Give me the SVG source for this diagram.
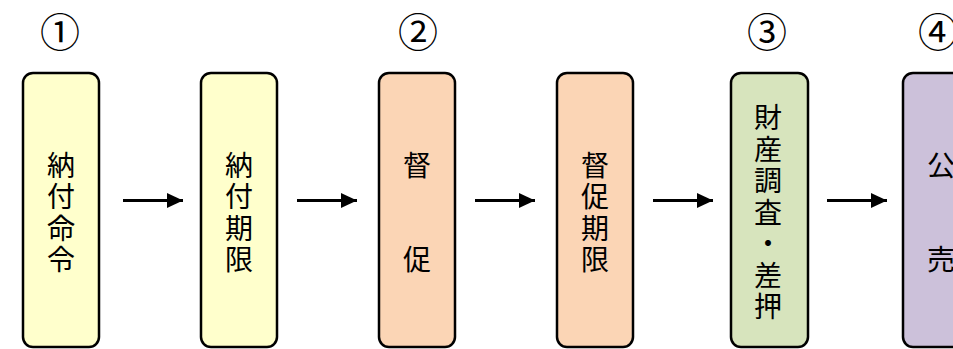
<svg xmlns="http://www.w3.org/2000/svg" width="953" height="349" viewBox="0 0 953 349">
  <style>
    .box { stroke: #000; stroke-width: 2.5; }
    .y { fill: #FFFFCC; }
    .o { fill: #FBD5B5; }
    .g { fill: #D7E4BD; }
    .p { fill: #CCC1DA; }
    .t { font-family: "Noto Sans CJK JP", "Liberation Sans", sans-serif; font-size: 28px; fill: #000; text-anchor: middle; writing-mode: vertical-rl; letter-spacing: 3.5px; }
    .n { font-family: "Noto Sans CJK JP", "Liberation Sans", sans-serif; font-size: 40px; fill: #000; text-anchor: middle; dominant-baseline: central; }
    .ln { stroke: #000; stroke-width: 3; fill: none; }
  </style>
  <defs>
    <marker id="ah" markerWidth="16" markerHeight="15" refX="16" refY="7.5" markerUnits="userSpaceOnUse" orient="auto">
      <polygon points="0,0 16,7.5 0,15" fill="#000"/>
    </marker>
  </defs>
  <rect width="953" height="349" fill="#fff"/>

  <g id="labels">
    <text class="n" x="60" y="30">①</text>
    <text class="n" x="418" y="30">②</text>
    <text class="n" x="767" y="30">③</text>
    <text class="n" x="938" y="30">④</text>
  </g>

  <g id="node1">
    <rect class="box y" x="23" y="73" width="76" height="274" rx="10"/>
    <text class="t" x="61" y="214">納付命令</text>
  </g>
  <g id="node2">
    <rect class="box y" x="201" y="73" width="76" height="274" rx="10"/>
    <text class="t" x="239" y="214">納付期限</text>
  </g>
  <g id="node3">
    <rect class="box o" x="379" y="73" width="76" height="274" rx="10"/>
    <text class="t" x="417" y="214">督　　促</text>
  </g>
  <g id="node4">
    <rect class="box o" x="557" y="73" width="76" height="274" rx="10"/>
    <text class="t" x="595" y="214">督促期限</text>
  </g>
  <g id="node5">
    <rect class="box g" x="731" y="73" width="77" height="274" rx="10"/>
    <text class="t" x="768" y="214">財産調査・差押</text>
  </g>
  <g id="node6">
    <rect class="box p" x="903" y="73" width="77" height="274" rx="10"/>
    <text class="t" x="941" y="214">公　　売</text>
  </g>

  <g id="connectors">
    <line class="ln" x1="123" y1="200.5" x2="183" y2="200.5" marker-end="url(#ah)"/>
    <line class="ln" x1="297" y1="200.5" x2="357" y2="200.5" marker-end="url(#ah)"/>
    <line class="ln" x1="475" y1="200.5" x2="535" y2="200.5" marker-end="url(#ah)"/>
    <line class="ln" x1="653" y1="200.5" x2="713" y2="200.5" marker-end="url(#ah)"/>
    <line class="ln" x1="827" y1="200.5" x2="887" y2="200.5" marker-end="url(#ah)"/>
  </g>
</svg>
